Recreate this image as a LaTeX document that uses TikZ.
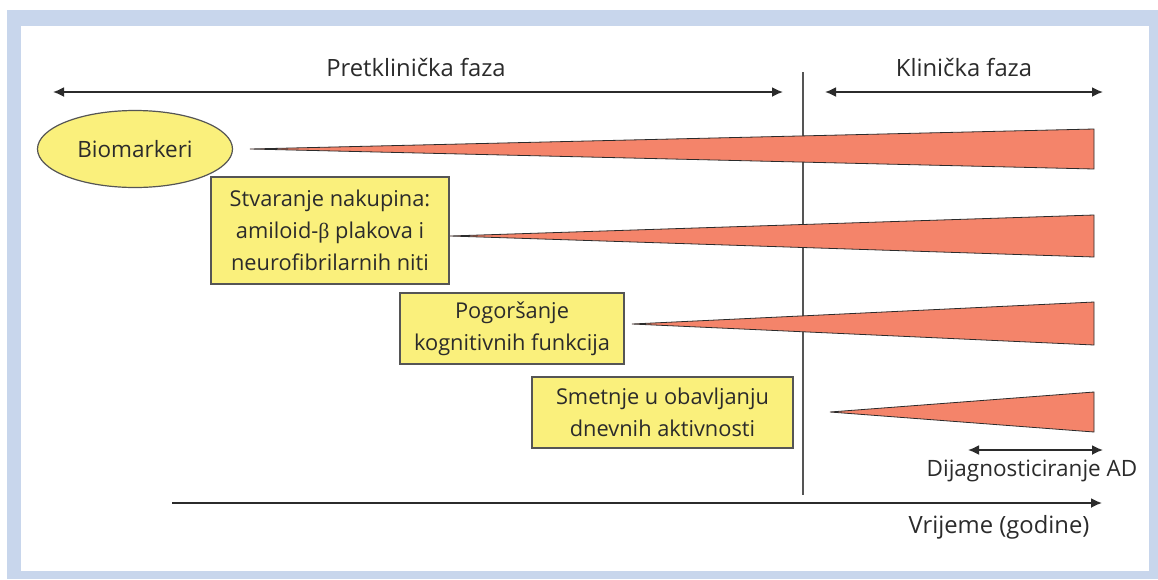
\documentclass[tikz,border=0pt]{standalone}
\usepackage{fontspec}
\setmainfont{Open Sans}
\newfontfamily\betafont{Liberation Serif}
\usetikzlibrary{arrows.meta,shapes.geometric}
\definecolor{frameblue}{HTML}{C8D6EC}
\definecolor{boxyellow}{HTML}{FAF07C}
\definecolor{wedgered}{HTML}{F4846A}
\definecolor{ink}{HTML}{2B2B2B}
\definecolor{edge}{HTML}{555555}
\tikzset{
  lbl/.style={text=ink,font=\fontsize{23.8}{28}\selectfont,inner sep=0pt},
  small lbl/.style={text=ink,font=\fontsize{22.5}{27}\selectfont,inner sep=0pt},
  ybox/.style={draw=edge,line width=1.2pt,fill=boxyellow,text=ink,align=center,
    font=\fontsize{21.8}{32}\selectfont,inner sep=0pt},
  wedge/.style={draw=ink,line width=0.8pt,fill=wedgered,line join=miter},
  dbl/.style={draw=ink,line width=1.8pt,{Latex[length=11pt,width=10pt]}-{Latex[length=11pt,width=10pt]}},
  sgl/.style={draw=ink,line width=1.8pt,-{Latex[length=11pt,width=10pt]}}
}
\begin{document}
\begin{tikzpicture}[x=1pt,y=-1pt]
\useasboundingbox (0,0) rectangle (1158,579);
\fill[white] (0,0) rectangle (1158,579);
\fill[frameblue] (7,10) rectangle (1158,579);
\fill[white] (21,26) rectangle (1149,571);

% phase labels and arrows
\node[lbl] (pre) at (416,67) {Pretklinička faza};
\node[lbl] (kli) at (964,67) {Klinička faza};
\coordinate (preL) at (53,92);
\coordinate (preR) at (783,92);
\coordinate (kliL) at (825,92);
\coordinate (kliR) at (1103,92);
\draw[dbl] (preL) -- (preR);
\draw[dbl] (kliL) -- (kliR);

% divider
\coordinate (divT) at (803,72);
\coordinate (divB) at (803,495);
\draw[edge,line width=1.5pt] (divT) -- (divB);

% wedges
\coordinate (t1) at (250,149);
\coordinate (t2) at (450,236);
\coordinate (t3) at (632,324);
\coordinate (t4) at (830,412);
\filldraw[wedge] (t1) -- (1094,129) -- (1094,169) -- cycle;
\filldraw[wedge] (t2) -- (1094,215) -- (1094,257) -- cycle;
\filldraw[wedge] (t3) -- (1094,302) -- (1094,345) -- cycle;
\filldraw[wedge] (t4) -- (1094,392) -- (1094,432) -- cycle;

% labels
\node[ellipse,draw=edge,line width=1.2pt,fill=boxyellow,text=ink,
  font=\fontsize{22.5}{27}\selectfont,minimum width=195pt,minimum height=77pt,inner sep=0pt]
  (bio) at (135,149) {Biomarkeri};
\node[ybox,minimum width=238pt,minimum height=107pt] (b1) at (330,230.5)
  {Stvaranje nakupina:\\amiloid-{\betafont β} plakova i\\neurofibrilarnih niti};
\node[ybox,minimum width=224pt,minimum height=71pt] (b2) at (512,328.5)
  {Pogoršanje\\kognitivnih funkcija};
\node[ybox,minimum width=261pt,minimum height=71pt] (b3) at (662.5,412.5)
  {Smetnje u obavljanju\\dnevnih aktivnosti};

% diagnosis arrow
\coordinate (dgL) at (968,450);
\coordinate (dgR) at (1103,450);
\draw[dbl] (dgL) -- (dgR);
\node[small lbl] (dg) at (1032,471) {Dijagnosticiranje AD};

% time axis
\coordinate (ax0) at (172,503);
\coordinate (ax1) at (1102,503);
\draw[sgl] (ax0) -- (ax1);
\node[lbl] (time) at (999,527) {Vrijeme (godine)};
\end{tikzpicture}
\end{document}
